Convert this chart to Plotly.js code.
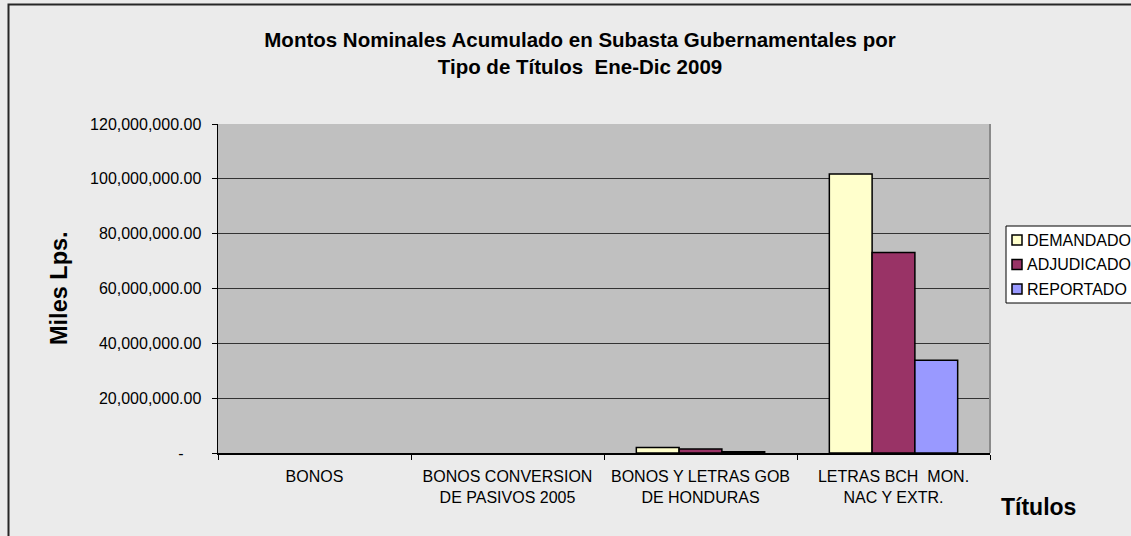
<!DOCTYPE html>
<html>
<head>
<meta charset="utf-8">
<script src="https://cdn.plot.ly/plotly-3.0.1.min.js"></script>
<style>
  html, body { margin: 0; padding: 0; background: #ebebeb; }
  #plot { width: 1131px; height: 536px; }
</style>
</head>
<body>
<div id="plot"></div>
<script>
var categories = [
  "BONOS",
  "BONOS CONVERSION<br>DE PASIVOS 2005",
  "BONOS Y LETRAS GOB<br>DE HONDURAS",
  "LETRAS BCH\u00a0\u00a0MON.<br>NAC Y EXTR."
];
var seriesNames = ["DEMANDADO", "ADJUDICADO", "REPORTADO"];
var seriesColors = ["#FFFFCC", "#993366", "#9999FF"];

var demandado = [null, null, 2000000, 101800000];
var adjudicado = [null, null, 1500000, 73100000];
var reportado = [null, null, 500000, 33800000];

var yTickVals = [0, 20000000, 40000000, 60000000, 80000000, 100000000, 120000000];
var yTickText = ["-\u00a0\u00a0\u00a0\u00a0", "20,000,000.00", "40,000,000.00", "60,000,000.00",
                 "80,000,000.00", "100,000,000.00", "120,000,000.00"];

var W = 1131, H = 536;
var m = {l: 218, r: 141, t: 124, b: 83};
var pw = W - m.l - m.r, ph = H - m.t - m.b;
// pixel -> paper coords
function px(x) { return (x - m.l) / pw; }
function py(y) { return (H - m.b - y) / ph; }

var font = "Liberation Sans, Arial, sans-serif";
var values = [demandado, adjudicado, reportado];

var traces = values.map(function (v, i) {
  return {
    type: 'bar',
    name: seriesNames[i],
    x: categories,
    y: v,
    marker: {color: seriesColors[i], line: {color: '#000000', width: 1.5}},
    showlegend: false,
    hoverinfo: 'none'
  };
});

var shapes = [
  // chart border
  {type: 'rect', xref: 'paper', yref: 'paper', x0: px(8.5), x1: px(1145), y0: py(4.5), y1: py(550),
   line: {color: '#262626', width: 2}},
  // plot area right edge
  {type: 'line', xref: 'paper', yref: 'paper', x0: 1, x1: 1, y0: 0, y1: 1,
   line: {color: '#8a8a8a', width: 2}},
  // legend box
  {type: 'rect', xref: 'paper', yref: 'paper', x0: px(1006), x1: px(1145), y0: py(226), y1: py(303),
   fillcolor: '#ffffff', line: {color: '#000000', width: 1}}
];
var annotations = [
  {xref: 'paper', yref: 'paper', x: px(59), y: py(288), xanchor: 'center', yanchor: 'middle',
   text: 'Miles Lps.', showarrow: false, textangle: -90,
   font: {family: font, size: 23.5, weight: 'bold', color: '#000'}},
  {xref: 'paper', yref: 'paper', x: px(1038), y: py(507), xanchor: 'center', yanchor: 'middle',
   text: 'Títulos', showarrow: false,
   font: {family: font, size: 23, weight: 'bold', color: '#000'}}
];
var legendY = [240, 264.5, 289];
seriesNames.forEach(function (n, i) {
  shapes.push({type: 'rect', xref: 'paper', yref: 'paper',
    x0: px(1012), x1: px(1022), y0: py(legendY[i] - 5), y1: py(legendY[i] + 5),
    fillcolor: seriesColors[i], line: {color: '#000000', width: 1.5}});
  annotations.push({xref: 'paper', yref: 'paper', x: px(1025), y: py(legendY[i]),
    xanchor: 'left', yanchor: 'middle',
    text: n, showarrow: false, font: {family: font, size: 16, color: '#000'}});
});

var layout = {
  width: W,
  height: H,
  margin: {l: m.l, r: m.r, t: m.t, b: m.b, autoexpand: false},
  paper_bgcolor: '#ebebeb',
  plot_bgcolor: '#c0c0c0',
  font: {family: font, size: 16, color: '#000'},
  title: {
    text: 'Montos Nominales Acumulado en Subasta Gubernamentales por<br>Tipo de Títulos\u00a0\u00a0Ene-Dic 2009',
    xref: 'container', yref: 'container', x: 580 / W, y: 1 - 47 / H,
    xanchor: 'center', yanchor: 'top',
    font: {family: font, size: 20.5, weight: 'bold', color: '#000'}
  },
  barmode: 'group',
  bargap: 0.335,
  bargroupgap: 0,
  showlegend: false,
  xaxis: {
    type: 'category',
    tickson: 'boundaries',
    ticks: 'outside',
    ticklen: 5,
    tickcolor: '#000',
    tickangle: 0,
    showline: true,
    linecolor: '#000',
    linewidth: 1.5,
    showgrid: false,
    ticklabelstandoff: 8,
    tickfont: {family: font, size: 16, color: '#000'},
    fixedrange: true
  },
  yaxis: {
    range: [0, 120000000],
    tickvals: yTickVals,
    ticktext: yTickText,
    ticks: 'outside',
    ticklen: 5,
    tickcolor: '#000',
    showline: true,
    linecolor: '#000',
    linewidth: 1.5,
    gridcolor: '#333333',
    gridwidth: 1,
    zeroline: false,
    ticklabelstandoff: 7,
    tickfont: {family: font, size: 16, color: '#000'},
    fixedrange: true
  },
  shapes: shapes,
  annotations: annotations
};

Plotly.newPlot('plot', traces, layout, {staticPlot: true});
</script>
</body>
</html>
